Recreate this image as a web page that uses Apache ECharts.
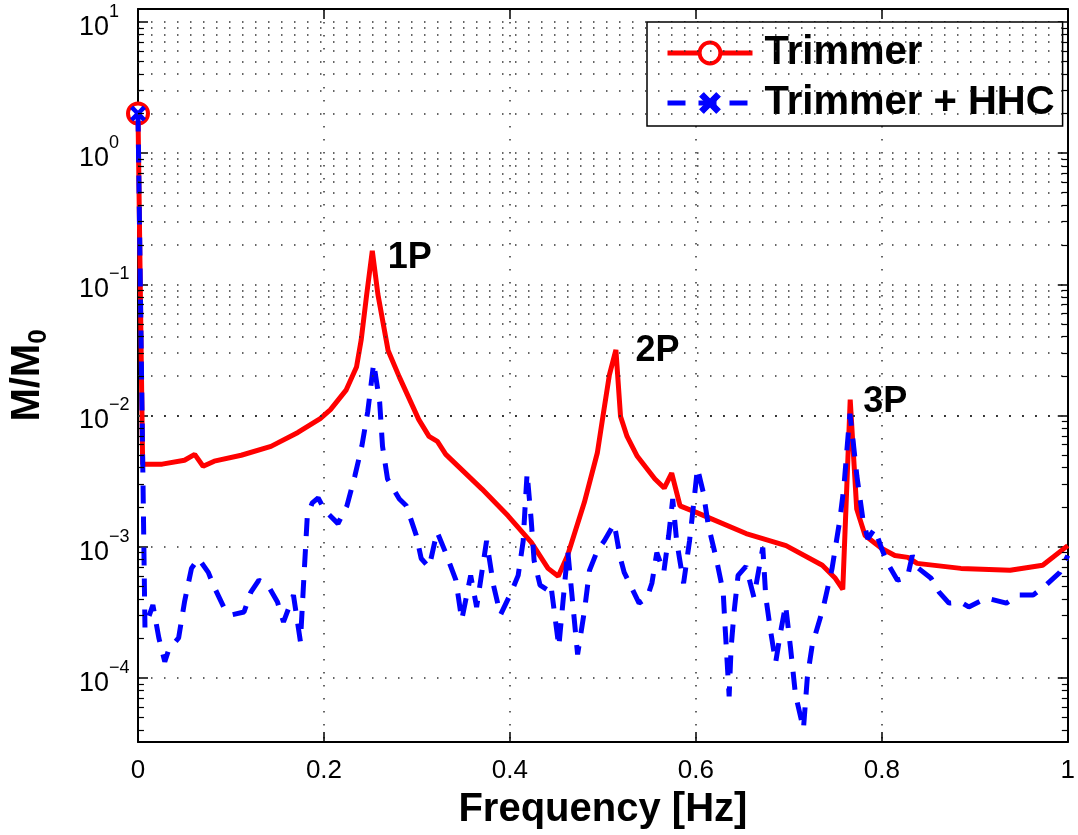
<!DOCTYPE html>
<html><head><meta charset="utf-8">
<script src="https://cdn.jsdelivr.net/npm/echarts@6/dist/echarts.min.js"></script>
<style>html,body{margin:0;padding:0;background:#fff}#c{width:1078px;height:835px}</style>
</head><body><div id="c"></div>
<script>
// ---- data ----
const seriesNames = ['Trimmer', 'Trimmer + HHC'];

const redFreq = [0, 0.005, 0.026, 0.050, 0.061, 0.070, 0.082, 0.111, 0.143, 0.172, 0.196, 0.207, 0.224, 0.235, 0.240, 0.246, 0.252, 0.258, 0.269, 0.281, 0.302, 0.313, 0.322, 0.331, 0.370, 0.398, 0.423, 0.441, 0.452, 0.462, 0.480, 0.494, 0.500, 0.507, 0.514, 0.519, 0.526, 0.537, 0.556, 0.566, 0.574, 0.583, 0.601, 0.654, 0.697, 0.736, 0.750, 0.758, 0.766, 0.773, 0.782, 0.800, 0.814, 0.828, 0.838, 0.885, 0.938, 0.973, 1.0];
const redMag = [2.0, 0.00426, 0.00426, 0.00456, 0.00506, 0.00411, 0.00449, 0.00498, 0.00582, 0.00743, 0.00948, 0.0111, 0.0157, 0.0234, 0.0375, 0.084, 0.180, 0.084, 0.0313, 0.0197, 0.0093, 0.00693, 0.00635, 0.00506, 0.00275, 0.00172, 0.00108, 0.000684, 0.000595, 0.000857, 0.00217, 0.00518, 0.00982, 0.0204, 0.0316, 0.00982, 0.00693, 0.00489, 0.00328, 0.0028, 0.00364, 0.00205, 0.00182, 0.00126, 0.00102, 0.000722, 0.000575, 0.000474, 0.01324, 0.00194, 0.00122, 0.00097, 0.000857, 0.00083, 0.000747, 0.000684, 0.000661, 0.000722, 0.00102];

const blueFreq = [0, 0.0075, 0.016, 0.0224, 0.0288, 0.033, 0.0437, 0.050, 0.0575, 0.065, 0.0756, 0.082, 0.0927, 0.100, 0.114, 0.1214, 0.130, 0.1395, 0.150, 0.1565, 0.1672, 0.1747, 0.1778, 0.1821, 0.1874, 0.1938, 0.2013, 0.2151, 0.2247, 0.2332, 0.2407, 0.2471, 0.2535, 0.2599, 0.263, 0.2684, 0.2811, 0.2886, 0.2993, 0.3046, 0.3131, 0.3216, 0.3312, 0.3419, 0.3482, 0.3578, 0.3642, 0.3749, 0.3823, 0.3898, 0.4015, 0.4089, 0.4143, 0.4164, 0.4185, 0.4228, 0.426, 0.4324, 0.4409, 0.4441, 0.4526, 0.4622, 0.4728, 0.4803, 0.4856, 0.4941, 0.5016, 0.5122, 0.5186, 0.5229, 0.5389, 0.5474, 0.5527, 0.558, 0.5655, 0.5708, 0.5751, 0.5793, 0.5868, 0.5932, 0.5974, 0.6017, 0.6081, 0.6134, 0.6219, 0.6294, 0.6315, 0.6358, 0.6379, 0.6411, 0.6454, 0.6539, 0.6624, 0.672, 0.6752, 0.6805, 0.6858, 0.6912, 0.6965, 0.7018, 0.7071, 0.7157, 0.7199, 0.7252, 0.7369, 0.7465, 0.755, 0.7593, 0.7625, 0.7657, 0.7689, 0.7732, 0.7796, 0.7849, 0.7923, 0.7998, 0.8062, 0.8168, 0.8275, 0.8328, 0.8381, 0.853, 0.8616, 0.8722, 0.885, 0.8935, 0.9127, 0.934, 0.9468, 0.9627, 0.9766, 0.9915, 1.0];
const blueMag = [2.0, 0.000241, 0.00036, 0.000202, 0.000133, 0.000164, 0.000202, 0.000379, 0.000684, 0.000814, 0.000638, 0.000492, 0.000341, 0.000302, 0.000318, 0.000451, 0.000556, 0.00051, 0.000379, 0.000267, 0.000428, 0.000189, 0.000483, 0.00172, 0.00216, 0.00235, 0.00188, 0.0015, 0.00205, 0.00345, 0.00582, 0.0107, 0.0251, 0.0127, 0.00582, 0.00328, 0.00231, 0.00205, 0.00122, 0.000814, 0.000697, 0.0013, 0.000889, 0.000556, 0.000277, 0.000605, 0.000347, 0.00111, 0.00051, 0.000302, 0.000451, 0.000605, 0.00111, 0.00205, 0.00364, 0.00163, 0.000787, 0.00051, 0.000467, 0.00051, 0.000173, 0.000935, 0.000151, 0.00033, 0.000661, 0.000935, 0.00111, 0.0015, 0.000828, 0.000638, 0.000372, 0.000406, 0.000527, 0.000903, 0.00064, 0.00122, 0.00231, 0.00111, 0.000527, 0.00111, 0.00205, 0.00397, 0.00257, 0.00145, 0.000814, 0.000451, 0.000241, 0.0000724, 0.00017, 0.000318, 0.000605, 0.000708, 0.000413, 0.000986, 0.000413, 0.000225, 0.000131, 0.000225, 0.00036, 0.00017, 0.000075, 0.0000408, 0.000101, 0.000179, 0.000341, 0.000684, 0.00163, 0.0029, 0.00552, 0.01033, 0.00658, 0.00345, 0.00163, 0.00115, 0.00137, 0.00097, 0.000747, 0.000556, 0.000585, 0.000857, 0.000697, 0.000575, 0.000451, 0.000372, 0.000378, 0.000348, 0.000406, 0.000372, 0.000428, 0.000428, 0.00051, 0.000638, 0.000857];

const peakLabels = ['1P', '2P', '3P'];
const peakFreq = [0.2687, 0.535, 0.780];
const peakMag = [0.1575, 0.031, 0.01274];

const xTickStep = 0.2;
const xRange = [0, 1];
const yRange = [Math.pow(10, -4.488), Math.pow(10, 1.098)];

// ---- chart ----
const FONT = "'Liberation Sans', Arial, Helvetica, sans-serif";
const zip = (xs, ys) => xs.map((x, i) => [x, ys[i]]);
const redData = zip(redFreq, redMag);
const blueData = zip(blueFreq, blueMag);

const dotted = { type: [1.5, 11.5], color: '#333', width: 1.5 };

// minor (2..9 x 10^n) grid lines and ticks of the log axis
const minorVals = [];
for (let n = -6; n <= 2; n++) {
  for (let k = 2; k <= 9; k++) {
    const v = k * Math.pow(10, n);
    if (v > yRange[0] && v < yRange[1]) minorVals.push(v);
  }
}
const tickLen = 6 / 938;
const minorTickLines = [];
minorVals.forEach(v => {
  minorTickLines.push([{ coord: [xRange[0], v] }, { coord: [xRange[0] + tickLen, v] }]);
  minorTickLines.push([{ coord: [xRange[1] - tickLen, v] }, { coord: [xRange[1], v] }]);
});

const supLabel = v => {
  const e = Math.log10(v), r = Math.round(e);
  if (Math.abs(e - r) > 1e-6) return '';
  return '{b|10}{s|' + (r < 0 ? '\u2212' + (-r) : String(r)) + '}';
};

const axisLineStyle = { show: true, onZero: false, lineStyle: { color: '#000', width: 2 } };
const tickStyle = { show: true, inside: true, length: 10, lineStyle: { color: '#000', width: 1.5 } };

const chart = echarts.init(document.getElementById('c'), null, { renderer: 'canvas' });
chart.setOption({
  animation: false,
  backgroundColor: '#fff',
  textStyle: { fontFamily: FONT, color: '#000' },
  grid: { left: 136, right: 4, top: 9, bottom: 87, containLabel: false },
  legend: {
    orient: 'vertical', left: 647, top: 22,
    padding: [11, 8, 3, 18],
    itemWidth: 85, itemHeight: 26, itemGap: 10,
    backgroundColor: '#fff', borderColor: '#000', borderWidth: 1.5,
    selectedMode: false,
    textStyle: { fontFamily: FONT, fontSize: 40, fontWeight: 'bold', color: '#000', lineHeight: 40, padding: [0, 0, 0, 7] },
    data: [
      { name: seriesNames[0], itemStyle: { color: '#fff', borderColor: '#ff0000', borderWidth: 4 }, lineStyle: { color: '#ff0000', width: 5, type: 'solid' } },
      { name: seriesNames[1], itemStyle: { color: '#0000ff', borderColor: '#0000ff', borderWidth: 1 }, lineStyle: { color: '#0000ff', width: 5, type: [18, 13] } }
    ]
  },
  xAxis: [
    {
      type: 'value', min: xRange[0], max: xRange[1], interval: xTickStep, position: 'bottom',
      axisLine: axisLineStyle, axisTick: tickStyle,
      axisLabel: { fontFamily: FONT, fontSize: 26, color: '#000', margin: 16 },
      splitLine: { show: true, lineStyle: dotted },
      name: 'Frequency [Hz]', nameLocation: 'middle', nameGap: 48,
      nameTextStyle: { fontFamily: FONT, fontSize: 40, fontWeight: 'bold', color: '#000' }
    },
    {
      type: 'value', min: xRange[0], max: xRange[1], interval: xTickStep, position: 'top',
      axisLine: axisLineStyle, axisTick: tickStyle, axisLabel: { show: false }, splitLine: { show: false }
    }
  ],
  yAxis: [
    {
      type: 'log', logBase: 10, min: yRange[0], max: yRange[1], position: 'left',
      axisLine: axisLineStyle, axisTick: tickStyle,
      axisLabel: {
        formatter: supLabel, align: 'left', margin: 59, showMinLabel: false, showMaxLabel: false,
        rich: {
          b: { fontFamily: FONT, fontSize: 27, color: '#000', lineHeight: 38, verticalAlign: 'bottom' },
          s: { fontFamily: FONT, fontSize: 18, color: '#000', verticalAlign: 'top' }
        }
      },
      splitLine: { show: true, lineStyle: dotted },
      name: '{a|M/M}{s|0}', nameLocation: 'middle', nameGap: 86, nameRotate: 90,
      nameTextStyle: {
        rich: {
          a: { fontFamily: FONT, fontSize: 40, fontWeight: 'bold', color: '#000', lineHeight: 44, padding: [0, 0, 20, 0], verticalAlign: 'top' },
          s: { fontFamily: FONT, fontSize: 26, fontWeight: 'bold', color: '#000', lineHeight: 26, verticalAlign: 'bottom' }
        }
      }
    },
    {
      type: 'log', logBase: 10, min: yRange[0], max: yRange[1], position: 'right',
      axisLine: axisLineStyle, axisTick: tickStyle, axisLabel: { show: false }, splitLine: { show: false }
    }
  ],
  series: [
    {
      name: 'minor-grid', type: 'line', data: [], z: 1, silent: true, xAxisIndex: 0, yAxisIndex: 0,
      markLine: {
        silent: true, symbol: ['none', 'none'], label: { show: false }, animation: false,
        lineStyle: dotted, emphasis: { disabled: true },
        data: minorVals.map(v => ({ yAxis: v }))
      }
    },
    {
      name: 'minor-ticks', type: 'line', data: [], z: 1, silent: true, xAxisIndex: 0, yAxisIndex: 0,
      markLine: {
        silent: true, symbol: ['none', 'none'], label: { show: false }, animation: false,
        lineStyle: { type: 'solid', color: '#000', width: 1.2 }, emphasis: { disabled: true },
        data: minorTickLines
      }
    },
    {
      name: seriesNames[0], type: 'line', data: redData, z: 3, silent: true,
      showSymbol: true, symbol: 'circle',
      symbolSize: (v, p) => (p.dataIndex === 0 ? 20 : 0),
      itemStyle: { color: '#fff', borderColor: '#ff0000', borderWidth: 4 },
      lineStyle: { color: '#ff0000', width: 5 },
      markPoint: {
        silent: true, symbol: 'circle', symbolSize: 0, animation: false,
        label: { show: true, position: 'right', distance: 0, formatter: p => p.name, fontFamily: FONT, fontSize: 36, fontWeight: 'bold', color: '#000' },
        data: peakLabels.map((t, i) => ({ name: t, coord: [peakFreq[i], peakMag[i]] }))
      }
    },
    {
      name: seriesNames[1], type: 'line', data: blueData, z: 4, silent: true,
      showSymbol: true,
      symbol: 'path://M0,2 L2,0 L5,3 L8,0 L10,2 L7,5 L10,8 L8,10 L5,7 L2,10 L0,8 L3,5 Z',
      symbolSize: (v, p) => (p.dataIndex === 0 ? 16 : 0),
      itemStyle: { color: '#0000ff' },
      lineStyle: { color: '#0000ff', width: 5, type: [18, 13] }
    }
  ]
});
</script>
</body></html>
